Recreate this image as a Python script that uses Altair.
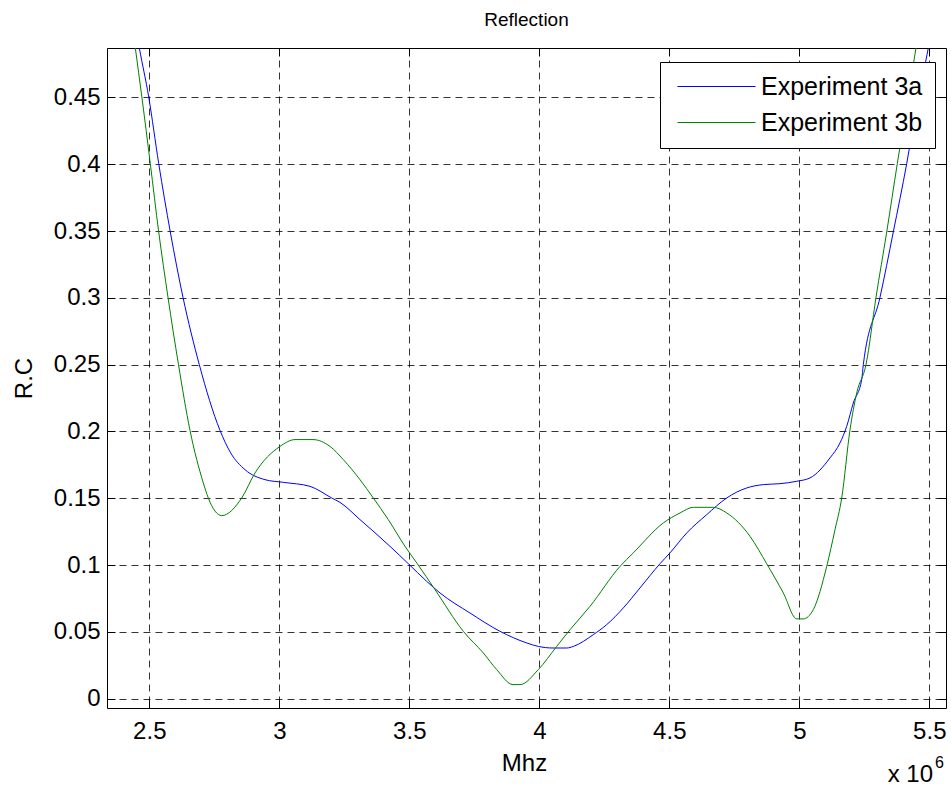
import altair as alt
import pandas as pd

# Frequency (x 10^6) and reflection coefficient for each experiment
freq_3a = [2.4508, 2.4615, 2.4980, 2.5362, 2.5808, 2.6296, 2.6923, 2.7719, 2.8131,
           2.8681, 2.9450, 3.0154, 3.1181, 3.2015, 3.2335, 3.3104, 3.4258, 3.4962,
           3.5669, 3.6181, 3.7335, 3.8488, 3.9515, 3.9962, 4.0527, 4.1054, 4.1308,
           4.2077, 4.2592, 4.3231, 4.3873, 4.4642, 4.5027, 4.5669, 4.6438, 4.7208,
           4.7977, 4.8615, 4.9258, 4.9900, 5.0412, 5.1181, 5.1565, 5.1823, 5.2077,
           5.2400, 5.2462, 5.3104, 5.3615, 5.4131, 5.4565, 5.4962, 5.5065]
rc_3a = [0.4985, 0.4871, 0.4500, 0.4005, 0.3493, 0.3004, 0.2500, 0.2008, 0.1839,
         0.1714, 0.1639, 0.1619, 0.1589, 0.1502, 0.1469, 0.1340, 0.1140, 0.1010,
         0.0878, 0.0791, 0.0641, 0.0504, 0.0417, 0.0391, 0.0379, 0.0379, 0.0391,
         0.0479, 0.0554, 0.0679, 0.0829, 0.1010, 0.1091, 0.1240, 0.1377, 0.1502,
         0.1577, 0.1602, 0.1609, 0.1627, 0.1652, 0.1802, 0.1914, 0.2038, 0.2213,
         0.2388, 0.2500, 0.3004, 0.3493, 0.4005, 0.4496, 0.4871, 0.4985]

freq_3b = [2.4385, 2.4462, 2.4719, 2.5038, 2.5362, 2.5719, 2.6123, 2.6565, 2.7077,
           2.7269, 2.7785, 2.8554, 2.9065, 3.0027, 3.0604, 3.1296, 3.1950, 3.2462,
           3.3104, 3.3615, 3.4192, 3.4835, 3.5308, 3.5988, 3.7077, 3.7846, 3.8362,
           3.8988, 3.9258, 3.9962, 4.0669, 4.1181, 4.1950, 4.3104, 4.3615, 4.4769,
           4.5412, 4.5923, 4.6692, 4.7208, 4.8104, 4.8746, 4.9385, 4.9900, 5.0154,
           5.0538, 5.1054, 5.1373, 5.1631, 5.1950, 5.2208, 5.2565, 5.2950, 5.3362,
           5.3769, 5.4181, 5.4488, 5.4585]
rc_3b = [0.4985, 0.4871, 0.4496, 0.4005, 0.3493, 0.3004, 0.2500, 0.2008, 0.1615,
         0.1502, 0.1370, 0.1502, 0.1689, 0.1888, 0.1939, 0.1939, 0.1888, 0.1789,
         0.1639, 0.1502, 0.1340, 0.1140, 0.1010, 0.0816, 0.0504, 0.0342, 0.0217,
         0.0105, 0.0105, 0.0217, 0.0391, 0.0516, 0.0691, 0.0990, 0.1091, 0.1315,
         0.1390, 0.1432, 0.1432, 0.1390, 0.1215, 0.1010, 0.0791, 0.0597, 0.0597,
         0.0666, 0.0990, 0.1265, 0.1502, 0.2013, 0.2288, 0.2500, 0.3004, 0.3493,
         0.4005, 0.4496, 0.4871, 0.4985]

series_names = ["Experiment 3a", "Experiment 3b"]
series_colors = ["#0000ff", "#008000"]

x_ticks = [2.5, 3, 3.5, 4, 4.5, 5, 5.5]
y_ticks = [0, 0.05, 0.1, 0.15, 0.2, 0.25, 0.3, 0.35, 0.4, 0.45]

x_domain = [2.3373, 5.5642]
y_domain = [-0.007, 0.487]

df = pd.concat([
    pd.DataFrame({"freq": freq_3a, "rc": rc_3a, "series": series_names[0]}),
    pd.DataFrame({"freq": freq_3b, "rc": rc_3b, "series": series_names[1]}),
], ignore_index=True)

FONT = "Liberation Sans"
FS = 24
INWARD = {"expr": "-8"}

x_scale = alt.Scale(domain=x_domain, nice=False, zero=False)
y_scale = alt.Scale(domain=y_domain, nice=False, zero=False)

lines = alt.Chart(df).mark_line(strokeWidth=1, clip=True, interpolate="monotone").encode(
    x=alt.X("freq:Q", scale=x_scale, axis=alt.Axis(
        orient="bottom", values=x_ticks, labelExpr="format(datum.value, '~g')",
        title="Mhz", titleFont=FONT, titleFontSize=FS, titleFontWeight="normal",
        titleColor="black", titleBaseline="alphabetic", titleX=417, titleY=62,
        labelFont=FONT, labelFontSize=FS, labelColor="black",
        labelBaseline="alphabetic", labelPadding=38, labelFlush=False,
        tickSize=INWARD, tickColor="black", domainColor="black",
        grid=True, gridDash=[7, 5], gridColor="#000000", gridOpacity=0.8,
    )),
    y=alt.Y("rc:Q", scale=y_scale, axis=alt.Axis(
        orient="left", values=y_ticks, labelExpr="format(datum.value, '~g')",
        title="R.C", titleFont=FONT, titleFontSize=FS, titleFontWeight="normal",
        titleColor="black", titleAngle=270, titleBaseline="alphabetic",
        titleAlign="center", titleX=-76, titleY=330,
        labelFont=FONT, labelFontSize=FS, labelColor="black",
        labelPadding=15, labelFlush=False,
        tickSize=INWARD, tickColor="black", domainColor="black",
        grid=True, gridDash=[7, 5], gridColor="#000000", gridOpacity=0.8,
    )),
    color=alt.Color("series:N", scale=alt.Scale(domain=series_names, range=series_colors),
                    legend=alt.Legend(
                        title=None, orient="none", legendX=553, legendY=14,
                        symbolType="M-3.9,0H3.9", symbolSize=400, symbolStrokeWidth=1,
                        symbolOffset=32, labelOffset=32, labelFont=FONT,
                        labelFontSize=25, labelColor="black", labelLimit=0,
                        padding=12, rowPadding=10, strokeColor="black",
                        fillColor="white", cornerRadius=0,
                    )),
)

# Opposite-side axes that carry only the inward ticks of the boxed frame
frame = alt.Chart(df).mark_line(opacity=0, clip=True).encode(
    x=alt.X("freq:Q", scale=x_scale, axis=alt.Axis(
        orient="top", values=x_ticks, labels=False, title=None, grid=False,
        tickSize=INWARD, tickColor="black", domainColor="black")),
    y=alt.Y("rc:Q", scale=y_scale, axis=alt.Axis(
        orient="right", values=y_ticks, labels=False, title=None, grid=False,
        tickSize=INWARD, tickColor="black", domainColor="black")),
    detail="series:N",
)

# Axis multiplier "x 10^6"
mult_base = alt.Chart(pd.DataFrame({"t": ["x 10"]})).mark_text(
    align="right", baseline="alphabetic", font=FONT, fontSize=FS, color="black"
).encode(text="t:N", x=alt.value(826), y=alt.value(734))

mult_exp = alt.Chart(pd.DataFrame({"t": ["6"]})).mark_text(
    align="left", baseline="alphabetic", font=FONT, fontSize=16, color="black"
).encode(text="t:N", x=alt.value(828), y=alt.value(720))

chart = alt.layer(lines, frame, mult_base, mult_exp).resolve_axis(
    x="independent", y="independent"
).properties(
    width=839, height=660,
    title=alt.TitleParams("Reflection", font=FONT, fontSize=19, fontWeight="normal",
                          color="black", anchor="middle", baseline="alphabetic", offset=3),
    autosize=alt.AutoSizeParams(type="none"),
    padding={"left": 107, "top": 48, "right": 5, "bottom": 81},
).configure_view(stroke="black", strokeWidth=1).configure(background="white")

chart.save("out.html", embed_options={"renderer": "svg", "actions": False})
